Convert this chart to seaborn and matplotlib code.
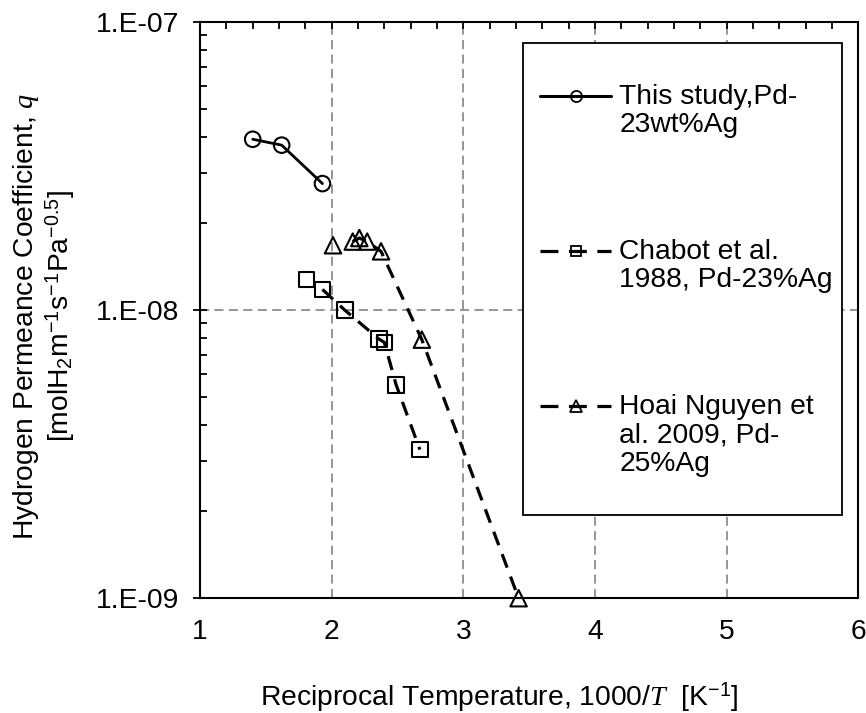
import numpy as np
import pandas as pd
import matplotlib
matplotlib.use("Agg")
import matplotlib.pyplot as plt
import seaborn as sns
from matplotlib.lines import Line2D
from matplotlib.patches import Rectangle
from matplotlib.ticker import MultipleLocator, LogLocator, FixedLocator, FixedFormatter, NullFormatter

# ---- data ----
study_x = [1.40, 1.62, 1.93]
study_q = [3.92e-8, 3.74e-8, 2.75e-8]

chabot_x = [1.81, 1.93, 2.10, 2.36, 2.40, 2.49, 2.67]
chabot_q = [1.28e-8, 1.18e-8, 1.00e-8, 7.93e-9, 7.73e-9, 5.5e-9, 3.28e-9]

hoai_x = [2.01, 2.16, 2.21, 2.27, 2.375, 2.685, 3.42]
hoai_q = [1.68e-8, 1.73e-8, 1.78e-8, 1.73e-8, 1.60e-8, 7.9e-9, 1.0e-9]

series_labels = ["This study,Pd-\n23wt%Ag",
                 "Chabot et al.\n1988, Pd-23%Ag",
                 "Hoai Nguyen et\nal. 2009, Pd-\n25%Ag"]

xtick_values = [1, 2, 3, 4, 5, 6]
ytick_values = [1e-9, 1e-8, 1e-7]
ytick_labels = ["1.E-09", "1.E-08", "1.E-07"]

# ---- style ----
sns.set_theme(style="white")
plt.rcParams['font.family'] = ['Liberation Sans', 'DejaVu Sans']
plt.rcParams['mathtext.fontset'] = 'custom'
plt.rcParams['mathtext.rm'] = 'Liberation Sans'
plt.rcParams['mathtext.it'] = 'Liberation Serif:italic'
plt.rcParams['mathtext.bf'] = 'Liberation Sans:bold'
for k in ['text.color', 'axes.labelcolor', 'xtick.color', 'ytick.color', 'axes.edgecolor']:
    plt.rcParams[k] = 'black'

FS = 20.3

fig = plt.figure(figsize=(8.66, 7.13), dpi=100)
ax = fig.add_subplot(111)
fig.subplots_adjust(left=0.231, right=0.991, top=0.969, bottom=0.161)

df_s = pd.DataFrame({"x": study_x, "q": study_q})
df_c = pd.DataFrame({"x": chabot_x, "q": chabot_q})
df_h = pd.DataFrame({"x": hoai_x, "q": hoai_q})

LW_DASH = 2.3
DASH = (4.5, 3.0)

# lines
sns.lineplot(data=df_s, x="x", y="q", ax=ax, color="black", linewidth=2.0,
             sort=False, estimator=None, zorder=3)
sns.lineplot(data=df_c.iloc[1:], x="x", y="q", ax=ax, color="black", linewidth=LW_DASH,
             sort=False, estimator=None, zorder=3)
ax.lines[-1].set_dashes(DASH)
sns.lineplot(data=df_h.iloc[1:], x="x", y="q", ax=ax, color="black", linewidth=LW_DASH,
             sort=False, estimator=None, zorder=3)
ax.lines[-1].set_dashes(DASH)

# markers (hollow)
sns.scatterplot(data=df_s, x="x", y="q", ax=ax, marker="o", s=125,
                facecolor="none", edgecolor="black", linewidth=1.5, zorder=4)
sns.scatterplot(data=df_c, x="x", y="q", ax=ax, marker="s", s=125,
                facecolor="none", edgecolor="black", linewidth=1.5, zorder=4)
sns.scatterplot(data=df_h, x="x", y="q", ax=ax, marker="^", s=140,
                facecolor="none", edgecolor="black", linewidth=1.5, zorder=4)
for coll in ax.collections:
    coll.set_clip_on(False)

# axes
ax.set_yscale("log")
ax.set_xlim(1, 6)
ax.set_ylim(1e-9, 1e-7)

ax.xaxis.set_major_locator(FixedLocator(xtick_values))
ax.xaxis.set_minor_locator(MultipleLocator(0.2))
ax.yaxis.set_major_locator(FixedLocator(ytick_values))
ax.yaxis.set_major_formatter(FixedFormatter(ytick_labels))
ax.yaxis.set_minor_locator(LogLocator(base=10, subs=np.arange(2, 10)))
ax.yaxis.set_minor_formatter(NullFormatter())

ax.tick_params(axis='x', which='major', bottom=False, top=True, labelbottom=True,
               direction='in', length=5, width=1.3, labelsize=FS, pad=15, colors='black')
ax.tick_params(axis='x', which='minor', bottom=False, top=True,
               direction='in', length=5, width=1.3)
ax.tick_params(axis='y', which='major', left=True, right=False, direction='inout',
               length=10, width=1.3, labelsize=FS, pad=10, colors='black')
ax.tick_params(axis='y', which='minor', left=True, right=False, direction='in',
               length=5, width=1.3)

for sp in ax.spines.values():
    sp.set_visible(True)
    sp.set_color("black")
    sp.set_linewidth(1.5)

ax.grid(True, which='major', color='#8c8c8c', linestyle=(0, (5, 3)), linewidth=1.3)
ax.set_axisbelow(True)

ax.set_xlabel("Reciprocal Temperature, 1000/$T$  [K$^{-1}$]", fontsize=FS, color='black')
ax.xaxis.set_label_coords(0.454, -0.142)
ax.set_ylabel("Hydrogen Permeance Coefficient, $q$\n[molH$_2$m$^{-1}$s$^{-1}$Pa$^{-0.5}$]",
              fontsize=FS, color='black', multialignment='center', linespacing=1.1)
ax.yaxis.set_label_coords(-0.187, 0.49)

# legend frame
rect = Rectangle((0.491, 0.144), 0.976 - 0.491, 0.9635 - 0.144, transform=ax.transAxes,
                 facecolor="white", edgecolor="black", linewidth=1.3, zorder=5)
ax.add_patch(rect)

LEG_DASH = (5.6, 3.3)
handles = [
    Line2D([], [], color="black", lw=2.2, marker="o", ms=8, mfc="none", mec="black", mew=1.3),
    Line2D([], [], color="black", lw=LW_DASH, dashes=LEG_DASH, marker="s", ms=7.5,
           mfc="none", mec="black", mew=1.3),
    Line2D([], [], color="black", lw=LW_DASH, dashes=LEG_DASH, marker="^", ms=8,
           mfc="none", mec="black", mew=1.3),
]
leg = ax.legend(handles, series_labels, loc="upper left", bbox_to_anchor=(0.517, 0.893),
                frameon=False, borderpad=0, borderaxespad=0, handlelength=2.5,
                handleheight=1.2, handletextpad=0.3, labelspacing=3.57, fontsize=FS)
leg.set_zorder(6)
for t in leg.get_texts():
    t.set_linespacing(1.12)
    t.set_color('black')
# align each handle with the first line of its label
for col in leg._legend_handle_box.get_children():
    for item in col.get_children():
        item.align = "top"

fig.savefig("out.png", dpi=100)
